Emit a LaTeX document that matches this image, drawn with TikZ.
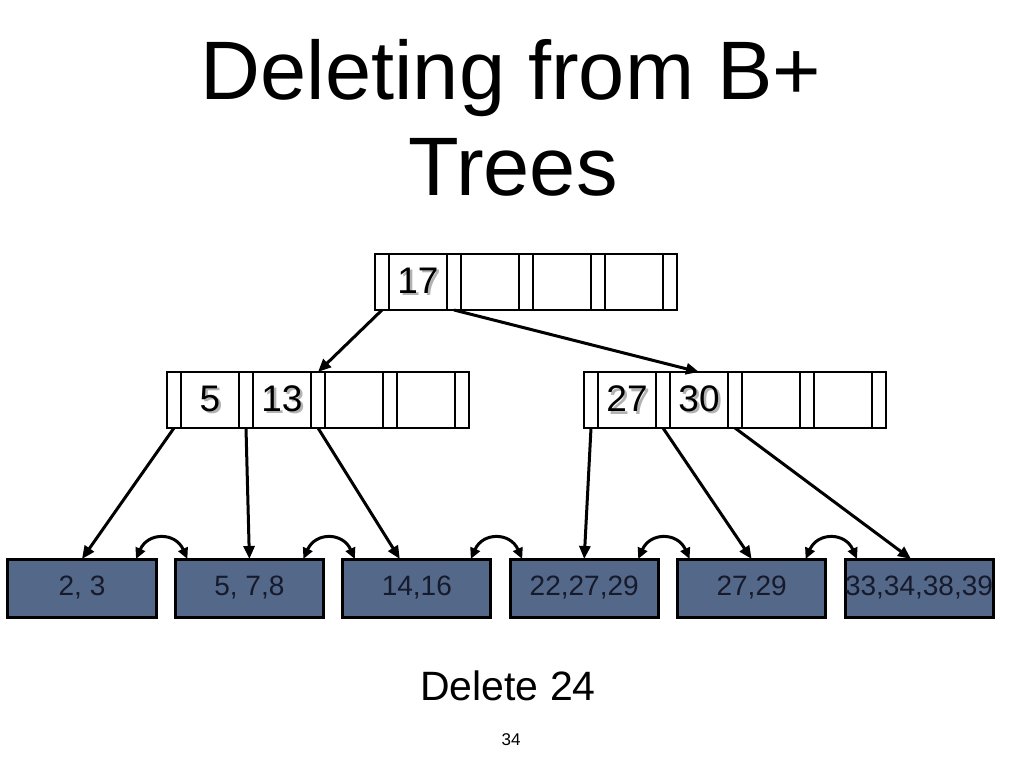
\documentclass[tikz,border=0pt]{standalone}
\usepackage{fontspec}
\setmainfont{Liberation Sans}
\usetikzlibrary{positioning,arrows.meta}

\definecolor{leafblue}{RGB}{84,104,138}
\definecolor{leaftext}{RGB}{22,26,42}
\newcommand{\shadowkey}[1]{\makebox[0pt][l]{\hspace{2.5bp}\raisebox{-2.5bp}{\textcolor{black!30}{#1}}}#1}

\begin{document}
\begin{tikzpicture}[x=1bp,y=-1bp,
  ptr/.style={draw,line width=2.5bp,minimum width=14bp,minimum height=56bp,inner sep=0pt,outer sep=0pt},
  key/.style={ptr,minimum width=58bp,font=\fontsize{37bp}{37bp}\selectfont},
  leaf/.style={draw,line width=3bp,fill=leafblue,text=leaftext,minimum width=148bp,minimum height=58bp,
    inner sep=0pt,outer sep=0pt,font=\fontsize{28bp}{28bp}\selectfont},
  link/.style={line width=3bp,-{Triangle[length=13bp,width=11bp]}},
  sib/.style={line width=3bp,{Triangle[length=11bp,width=10bp]}-{Triangle[length=11bp,width=10bp]}}]

\useasboundingbox (0,0) rectangle (1024,768);

% title
\node[font=\fontsize{83bp}{96bp}\selectfont,anchor=base] (title1) at (511,100) {Deleting from B+};
\node[font=\fontsize{83bp}{96bp}\selectfont,anchor=base] (title2) at (513,195) {Trees};

% root
\node[ptr] (tp0) at (382,282) {};
\node[key,right=0pt of tp0] (tk1) {\shadowkey{17}};
\node[ptr,right=0pt of tk1] (tp1) {};
\node[key,right=0pt of tp1] (tk2) {};
\node[ptr,right=0pt of tk2] (tp2) {};
\node[key,right=0pt of tp2] (tk3) {};
\node[ptr,right=0pt of tk3] (tp3) {};
\node[key,right=0pt of tp3] (tk4) {};
\node[ptr,right=0pt of tk4] (tp4) {};

% left index node
\node[ptr] (lp0) at (174,400) {};
\node[key,right=0pt of lp0] (lk1) {\shadowkey{5}};
\node[ptr,right=0pt of lk1] (lp1) {};
\node[key,right=0pt of lp1] (lk2) {\shadowkey{13}};
\node[ptr,right=0pt of lk2] (lp2) {};
\node[key,right=0pt of lp2] (lk3) {};
\node[ptr,right=0pt of lk3] (lp3) {};
\node[key,right=0pt of lp3] (lk4) {};
\node[ptr,right=0pt of lk4] (lp4) {};

% right index node
\node[ptr] (rp0) at (591,400) {};
\node[key,right=0pt of rp0] (rk1) {\shadowkey{27}};
\node[ptr,right=0pt of rk1] (rp1) {};
\node[key,right=0pt of rp1] (rk2) {\shadowkey{30}};
\node[ptr,right=0pt of rk2] (rp2) {};
\node[key,right=0pt of rp2] (rk3) {};
\node[ptr,right=0pt of rk3] (rp3) {};
\node[key,right=0pt of rp3] (rk4) {};
\node[ptr,right=0pt of rk4] (rp4) {};

% leaves
\node[leaf] (l1) at (82,588) {2, 3};
\node[leaf,right=19.4bp of l1] (l2) {5, 7,8};
\node[leaf,right=19.4bp of l2] (l3) {14,16};
\node[leaf,right=19.4bp of l3] (l4) {22,27,29};
\node[leaf,right=19.4bp of l4] (l5) {27,29};
\node[leaf,right=19.4bp of l5] (l6) {33,34,38,39};

% pointers
\draw[link] (tp0.south) -- (lp2.north);
\draw[link] (tp1.south) -- (rk2.north);
\draw[link] (lp0.south) -- (l1.north);
\draw[link] (lp1.south) -- (l2.north);
\draw[link] (lp2.south) -- ([xshift=-17bp]l3.north);
\draw[link] (rp0.south) -- (l4.north);
\draw[link] (rp1.south) -- (l5.north);
\draw[link] (rp2.south) -- ([xshift=-8bp]l6.north);

% sibling links
\foreach \a/\b in {l1/l2,l2/l3,l3/l4,l4/l5,l5/l6}
  \draw[sib] ([xshift=-20bp]\a.north east) .. controls +(12,-27) and +(-12,-27) .. ([xshift=12bp]\b.north west);

\node[font=\fontsize{41bp}{41bp}\selectfont,anchor=base] (task) at (508,700) {Delete 24};
\node[font=\fontsize{17bp}{17bp}\selectfont,anchor=base] (pagenum) at (511,745) {34};

\end{tikzpicture}
\end{document}
